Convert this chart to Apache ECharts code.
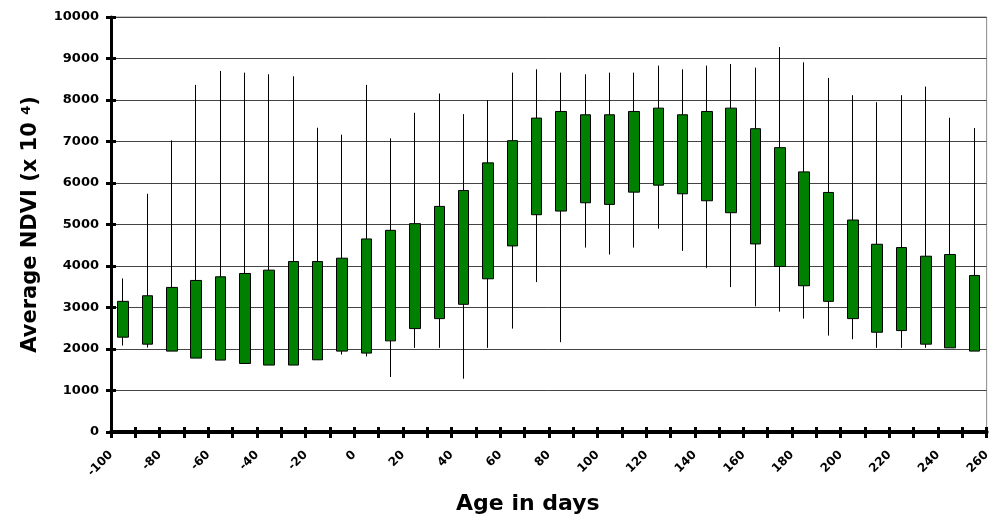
<!DOCTYPE html>
<html>
<head>
<meta charset="utf-8">
<script src="https://cdn.jsdelivr.net/npm/echarts@6/dist/echarts.min.js"></script>
<style>
  html, body { margin: 0; padding: 0; background: #fff; }
  #chart { width: 993px; height: 520px; }
</style>
</head>
<body>
<div id="chart"></div>
<script>
// box centres, every 10 days
const ages = [-95, -85, -75, -65, -55, -45, -35, -25, -15, -5, 5, 15, 25, 35, 45, 55, 65, 75,
  85, 95, 105, 115, 125, 135, 145, 155, 165, 175, 185, 195, 205, 215, 225, 235, 245, 255]
const boxLow = [2285, 2117, 1949, 1781, 1733, 1651, 1613, 1613, 1740, 1949, 1901, 2196, 2492, 2732, 3077, 3692, 4484, 5236,
  5324, 5524, 5484, 5780, 5948, 5740, 5572, 5284, 4532, 3988, 3524, 3148, 2732, 2404, 2444, 2117, 2028, 1949]
const boxHigh = [3148, 3283, 3484, 3652, 3740, 3820, 3900, 4108, 4108, 4188, 4652, 4860, 5020, 5436, 5820, 6485, 7020, 7564,
  7724, 7644, 7644, 7724, 7804, 7644, 7724, 7804, 7308, 6852, 6268, 5772, 5108, 4524, 4444, 4236, 4276, 3772]
const whiskerLow = [2083, 2035, 1949, 1781, 1733, 1651, 1613, 1613, 1740, 1867, 1820, 1325, 2028, 2028, 1284, 2028, 2492, 3612,
  2164, 4444, 4276, 4444, 4900, 4364, 3956, 3492, 3028, 2900, 2732, 2324, 2236, 2028, 2028, 2028, 2028, 1949]
const whiskerHigh = [3700, 5740, 7027, 8364, 8700, 8660, 8620, 8572, 7332, 7164, 8364, 7076, 7692, 8156, 7660, 7996, 8660, 8740,
  8660, 8620, 8660, 8660, 8828, 8740, 8828, 8868, 8780, 9276, 8908, 8532, 8116, 7948, 8116, 8324, 7572, 7324]

const font = 'DejaVu Sans'

// candlestick wants [open, close, lowest, highest]
const boxes = ages.map((a, i) => [boxLow[i], boxHigh[i], whiskerLow[i], whiskerHigh[i]])

const chart = echarts.init(document.getElementById('chart'))
chart.setOption({
  animation: false,
  grid: { left: 111, right: 3, top: 17, bottom: 86, show: true, borderColor: '#8a8a8a', borderWidth: 1 },
  xAxis: [
    { type: 'category', data: ages, boundaryGap: true, show: false },
    {
      type: 'value', min: -100, max: 260, interval: 10, position: 'bottom',
      name: 'Age in days', nameLocation: 'middle', nameGap: 61,
      nameTextStyle: { fontFamily: font, fontWeight: 'bold', fontSize: 22, color: '#000', padding: [0, 42, 0, 0] },
      axisLine: { onZero: false, lineStyle: { color: '#000', width: 4 } },
      axisTick: { length: 6, lineStyle: { color: '#000', width: 3 } },
      axisLabel: {
        rotate: 45, margin: 21, padding: [12, 0, 0, 0], fontFamily: font, fontWeight: 'bold', fontSize: 12, color: '#000',
        showMinLabel: true, showMaxLabel: true,
        formatter: v => (v % 20 === 0 ? String(v) : '')
      },
      splitLine: { show: false }
    },
    {
      type: 'value', min: -100, max: 260, interval: 10, position: 'bottom',
      axisLine: { show: false, onZero: false },
      axisTick: { inside: true, length: 5, lineStyle: { color: '#000', width: 3 } },
      axisLabel: { show: false },
      splitLine: { show: false }
    }
  ],
  yAxis: [
    {
      type: 'value', min: 0, max: 10000, interval: 1000, position: 'left',
      name: 'Average NDVI (x 10 {s|4})', nameLocation: 'middle', nameGap: 70,
      nameTextStyle: {
        fontFamily: font, fontWeight: 'bold', fontSize: 21, color: '#000',
        rich: { s: { fontFamily: font, fontWeight: 'bold', fontSize: 13, color: '#000', verticalAlign: 'top', padding: [0, 0, 8, 0] } }
      },
      axisLine: { show: true, onZero: false, lineStyle: { color: '#000', width: 3 } },
      axisTick: { show: true, length: 5, lineStyle: { color: '#000', width: 3 } },
      axisLabel: { margin: 12, fontFamily: font, fontWeight: 'bold', fontSize: 13, color: '#000', formatter: v => String(v) },
      splitLine: { lineStyle: { color: '#444', width: 1 } }
    },
    {
      type: 'value', min: 0, max: 10000, interval: 1000, position: 'left',
      axisLine: { show: false, onZero: false },
      axisTick: { show: true, inside: true, length: 5, lineStyle: { color: '#000', width: 3 } },
      axisLabel: { show: false },
      splitLine: { show: false }
    }
  ],
  series: [{
    type: 'candlestick',
    xAxisIndex: 0,
    yAxisIndex: 0,
    barWidth: 11,
    data: boxes,
    itemStyle: {
      color: '#008000', color0: '#008000',
      borderColor: '#000', borderColor0: '#000', borderWidth: 1
    }
  }]
})
</script>
</body>
</html>
